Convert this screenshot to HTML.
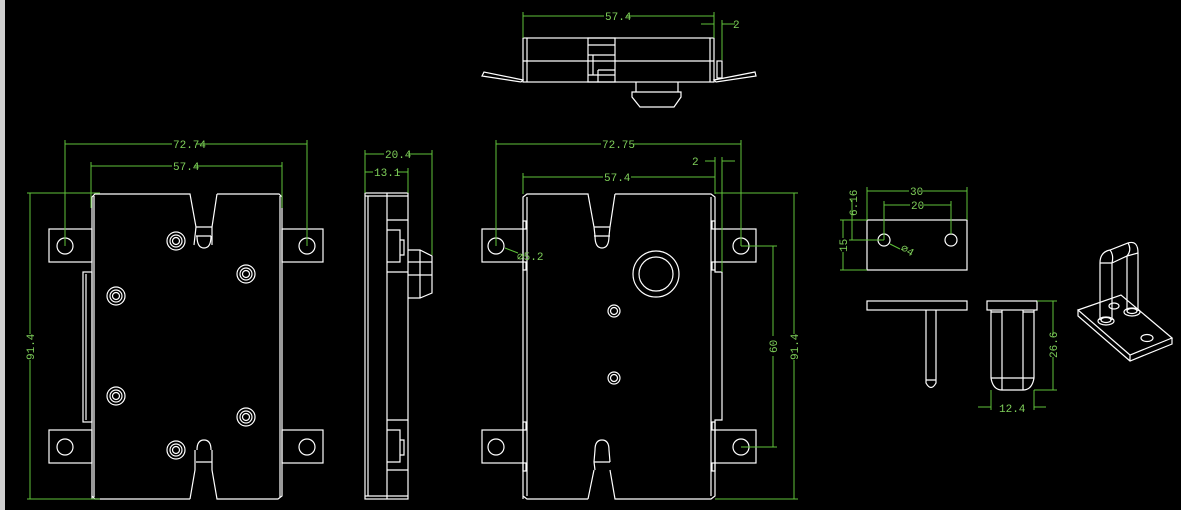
<!DOCTYPE html>
<html><head><meta charset="utf-8"><style>
html,body{margin:0;padding:0;background:#000;}
svg{display:block}
text{font-family:"Liberation Mono","DejaVu Sans Mono",monospace;font-size:11px;fill:#7fd05a}
</style></head><body>
<svg width="1181" height="510" viewBox="0 0 1181 510" xmlns="http://www.w3.org/2000/svg">
<rect x="0" y="0" width="1181" height="510" fill="#000"/>
<rect x="0" y="0" width="5" height="510" fill="#d0d0d0"/>

<!-- ============ LEFT FRONT VIEW ============ -->
<g fill="none" stroke="#fff" stroke-width="1.2">
  <path d="M92,499 L92,197 L95,194 L190,194 L196,227 L194,245 M217,194 L212,227 L212,245 M217,194 L279,194 L282,197 L282,496 L278,499 L217,499 L212,470 L212,450 M190,499 L95,499 L92,496 M190,499 L195,470 L195,450"/>
  <path d="M196,227 L212,227 M196,236 L211,236 M197,236 Q197,248 204,248 Q211,248 211,236"/>
  <path d="M196,462 L212,462 M197,450 Q197,440 204,440 Q211,440 211,450"/>
  <line x1="94" y1="196" x2="94" y2="497"/>
  <line x1="280" y1="196" x2="280" y2="497"/>
  <rect x="49" y="229" width="43" height="33"/><circle cx="65" cy="246" r="8"/>
  <rect x="282" y="229" width="41" height="33"/><circle cx="307" cy="246" r="8"/>
  <rect x="49" y="430" width="43" height="33"/><circle cx="65" cy="447" r="8"/>
  <rect x="282" y="430" width="41" height="33"/><circle cx="307" cy="447" r="8"/>
  <rect x="83" y="272" width="9" height="150"/><line x1="86" y1="274" x2="86" y2="420"/>
  <g>
    <circle cx="176" cy="241" r="9"/><circle cx="176" cy="241" r="6"/><circle cx="176" cy="241" r="3.5"/>
    <circle cx="246" cy="274" r="9"/><circle cx="246" cy="274" r="6"/><circle cx="246" cy="274" r="3.5"/>
    <circle cx="116" cy="296" r="9"/><circle cx="116" cy="296" r="6"/><circle cx="116" cy="296" r="3.5"/>
    <circle cx="116" cy="396" r="9"/><circle cx="116" cy="396" r="6"/><circle cx="116" cy="396" r="3.5"/>
    <circle cx="246" cy="417" r="9"/><circle cx="246" cy="417" r="6"/><circle cx="246" cy="417" r="3.5"/>
    <circle cx="176" cy="450" r="9"/><circle cx="176" cy="450" r="6"/><circle cx="176" cy="450" r="3.5"/>
  </g>
</g>
<g fill="none" stroke="#5fc23a" stroke-width="1">
  <line x1="65" y1="144" x2="307" y2="144"/>
  <line x1="65" y1="140" x2="65" y2="246"/><line x1="307" y1="140" x2="307" y2="246"/>
  <line x1="91" y1="166" x2="282" y2="166"/>
  <line x1="91" y1="162" x2="91" y2="208"/><line x1="282" y1="162" x2="282" y2="208"/>
  <line x1="30" y1="193" x2="30" y2="499"/>
  <line x1="27" y1="193" x2="100" y2="193"/><line x1="27" y1="499" x2="100" y2="499"/>
</g>
<rect x="172" y="140" width="24" height="8" fill="#000"/><text x="173" y="148">72.74</text>
<rect x="172" y="162" width="22" height="8" fill="#000"/><text x="173" y="170">57.4</text>
<rect x="25" y="334" width="10" height="26" fill="#000"/><text transform="translate(34,360) rotate(-90)">91.4</text>

<!-- ============ SIDE VIEW ============ -->
<g fill="none" stroke="#fff" stroke-width="1.2">
  <rect x="365" y="193" width="43" height="306"/>
  <line x1="368" y1="196" x2="368" y2="496"/>
  <line x1="387" y1="193" x2="387" y2="499"/>
  <line x1="365" y1="196" x2="408" y2="196"/><line x1="365" y1="496" x2="408" y2="496"/>
  <path d="M387,220 L408,220 M387,272 L408,272 M387,230 L400,230 L400,262 L387,262 M400,240 L404,240 L404,255 L400,255"/>
  <path d="M387,420 L408,420 M387,470 L408,470 M387,430 L400,430 L400,462 L387,462 M400,440 L404,440 L404,455 L400,455"/>
  <path d="M408,250 L420,250 L432,256 L432,293 L420,298 L408,298 M420,250 L420,298 M408,262 L432,262 M408,275 L432,275"/>
</g>
<g fill="none" stroke="#5fc23a" stroke-width="1">
  <line x1="365" y1="154" x2="432" y2="154"/><line x1="365" y1="172" x2="408" y2="172"/>
  <line x1="365" y1="150" x2="365" y2="193"/><line x1="432" y1="150" x2="432" y2="255"/>
  <line x1="408" y1="168" x2="408" y2="193"/>
</g>
<rect x="384" y="150" width="24" height="8" fill="#000"/><text x="385" y="158">20.4</text>
<rect x="373" y="168" width="24" height="8" fill="#000"/><text x="374" y="176">13.1</text>

<!-- ============ TOP VIEW ============ -->
<g fill="none" stroke="#fff" stroke-width="1.2">
  <rect x="523" y="38" width="191" height="44"/>
  <line x1="527" y1="38" x2="527" y2="82"/><line x1="710" y1="38" x2="710" y2="82"/>
  <line x1="523" y1="61" x2="714" y2="61"/>
  <rect x="588" y="38" width="27" height="44"/>
  <path d="M588,45 L615,45 M588,55 L615,55 M593,55 L593,75 M598,70 L615,70 M598,70 L598,82 M588,75 L615,75"/>
  <path d="M523,80 L484,72 L482,76 L521,82 Z"/>
  <path d="M714,80 L755,72 L756,76 L716,82 Z"/>
  <rect x="717" y="61" width="5" height="17"/>
  <path d="M636,82 L636,92 L678,92 L678,82 M632,92 L681,92 L681,97 L674,107 L640,107 L632,97 Z"/>
</g>
<g fill="none" stroke="#5fc23a" stroke-width="1">
  <line x1="523" y1="16" x2="714" y2="16"/>
  <line x1="523" y1="12" x2="523" y2="38"/><line x1="714" y1="12" x2="714" y2="38"/>
  <line x1="701" y1="24" x2="714" y2="24"/><line x1="722" y1="24" x2="735" y2="24"/>
  <line x1="722" y1="20" x2="722" y2="60"/>
</g>
<rect x="604" y="12" width="22" height="8" fill="#000"/><text x="605" y="20">57.4</text>
<text x="733" y="28">2</text>

<!-- ============ RIGHT FRONT VIEW ============ -->
<g fill="none" stroke="#fff" stroke-width="1.2">
  <path d="M523,499 L523,197 L527,194 L588,194 L594,227 M615,194 L610,227 M615,194 L711,194 L715,197 L715,272 L722,272 L722,420 L715,420 L715,496 L711,499 L615,499 L610,470 M588,499 L527,499 L523,496 M588,499 L594,470"/>
  <line x1="527" y1="197" x2="527" y2="496"/><line x1="711" y1="197" x2="711" y2="496"/>
  <path d="M594,227 L610,227 M594,236 L610,236 M595,236 Q595,248 602,248 Q609,248 609,236 M594,227 L595,236 M610,227 L609,236"/>
  <path d="M594,462 L610,462 M595,470 L594,462 M595,450 Q595,440 602,440 Q609,440 609,450 L610,462 M595,450 L594,462"/>
  <rect x="482" y="229" width="41" height="33"/><circle cx="496" cy="246" r="8"/>
  <rect x="715" y="229" width="41" height="33"/><circle cx="741" cy="246" r="8"/>
  <rect x="482" y="430" width="41" height="33"/><circle cx="496" cy="447" r="8"/>
  <rect x="715" y="430" width="41" height="33"/><circle cx="741" cy="447" r="8"/>
  <rect x="523" y="221" width="3" height="8"/><rect x="523" y="262" width="3" height="8"/>
  <rect x="523" y="422" width="3" height="8"/><rect x="523" y="463" width="3" height="8"/>
  <rect x="712" y="221" width="3" height="8"/><rect x="712" y="262" width="3" height="8"/>
  <rect x="712" y="422" width="3" height="8"/><rect x="712" y="463" width="3" height="8"/>
  <circle cx="656" cy="274" r="23"/><circle cx="656" cy="274" r="17"/>
  <circle cx="614" cy="311" r="6"/><circle cx="614" cy="311" r="3.5"/>
  <circle cx="614" cy="378" r="6"/><circle cx="614" cy="378" r="3.5"/>
</g>
<g fill="none" stroke="#5fc23a" stroke-width="1">
  <line x1="496" y1="144" x2="741" y2="144"/>
  <line x1="496" y1="140" x2="496" y2="246"/><line x1="741" y1="140" x2="741" y2="246"/>
  <line x1="523" y1="177" x2="715" y2="177"/>
  <line x1="523" y1="173" x2="523" y2="194"/><line x1="715" y1="157" x2="715" y2="194"/>
  <line x1="705" y1="161" x2="715" y2="161"/><line x1="722" y1="161" x2="735" y2="161"/>
  <line x1="722" y1="157" x2="722" y2="272"/>
  <line x1="794" y1="193" x2="794" y2="499"/>
  <line x1="715" y1="193" x2="798" y2="193"/><line x1="715" y1="499" x2="798" y2="499"/>
  <line x1="773" y1="246" x2="773" y2="447"/>
  <line x1="741" y1="246" x2="777" y2="246"/><line x1="741" y1="447" x2="777" y2="447"/>
  <line x1="505" y1="248" x2="518" y2="253"/>
</g>
<rect x="601" y="140" width="32" height="8" fill="#000"/><text x="602" y="148">72.75</text>
<rect x="603" y="173" width="28" height="8" fill="#000"/><text x="604" y="181">57.4</text>
<text x="692" y="165">2</text>
<text x="517" y="260">∅5.2</text>
<rect x="768" y="336" width="10" height="20" fill="#000"/><text transform="translate(777,353) rotate(-90)">60</text>
<rect x="789" y="334" width="10" height="26" fill="#000"/><text transform="translate(798,360) rotate(-90)">91.4</text>

<!-- ============ SMALL PART ============ -->
<g fill="none" stroke="#fff" stroke-width="1.2">
  <rect x="867" y="220" width="100" height="50"/>
  <circle cx="884" cy="240" r="6"/><circle cx="951" cy="240" r="6"/>
  <rect x="867" y="301" width="100" height="9"/>
  <path d="M926,310 L926,383 Q931,392 936,383 L936,310 M926,380 L936,380"/>
  <rect x="987" y="301" width="50" height="9"/>
  <path d="M991,310 L991,378 Q993,390 1002,390 L1023,390 Q1032,390 1034,378 L1034,310 M1002,310 L1002,390 M1023,310 L1023,390 M991,312 L1002,312 M1023,312 L1034,312 M991,378 L1034,378"/>
  <path d="M1078,310 L1121,295 L1172,338 L1130,355 Z M1078,310 L1078,316 L1130,361 L1172,344 L1172,338 M1130,355 L1130,361"/>
  <ellipse cx="1147" cy="338" rx="6" ry="3.5"/>
  <ellipse cx="1114" cy="306" rx="5" ry="3"/>
  <ellipse cx="1106" cy="321" rx="8" ry="4"/><ellipse cx="1106" cy="320" rx="5" ry="2.5"/>
  <ellipse cx="1132" cy="312" rx="8" ry="4"/><ellipse cx="1132" cy="311" rx="5" ry="2.5"/>
  <path d="M1100,320 L1100,263 Q1100,252 1110,250 L1128,243 Q1138,240 1138,253 L1138,311"/>
  <path d="M1112,320 L1112,263 M1127,311 L1127,256 L1112,263 M1100,263 L1112,263 M1127,256 L1138,253 M1110,250 Q1114,255 1112,263 M1128,243 Q1132,250 1127,256"/>
</g>
<g fill="none" stroke="#5fc23a" stroke-width="1">
  <line x1="867" y1="191" x2="967" y2="191"/>
  <line x1="867" y1="187" x2="867" y2="220"/><line x1="967" y1="187" x2="967" y2="220"/>
  <line x1="884" y1="205" x2="951" y2="205"/>
  <line x1="884" y1="201" x2="884" y2="240"/><line x1="951" y1="201" x2="951" y2="234"/>
  <line x1="843" y1="220" x2="843" y2="270"/>
  <line x1="840" y1="220" x2="867" y2="220"/><line x1="840" y1="270" x2="867" y2="270"/>
  <line x1="852" y1="200" x2="852" y2="240"/><line x1="849" y1="240" x2="884" y2="240"/>
  <line x1="890" y1="244" x2="900" y2="249"/>
  <line x1="1053" y1="301" x2="1053" y2="390"/>
  <line x1="1037" y1="301" x2="1057" y2="301"/><line x1="1034" y1="390" x2="1057" y2="390"/>
  <line x1="991" y1="390" x2="991" y2="410"/><line x1="1034" y1="390" x2="1034" y2="410"/>
  <line x1="978" y1="407" x2="991" y2="407"/><line x1="1034" y1="407" x2="1046" y2="407"/>
</g>
<rect x="909" y="187" width="14" height="8" fill="#000"/><text x="910" y="195">30</text>
<rect x="910" y="201" width="14" height="8" fill="#000"/><text x="911" y="209">20</text>
<rect x="838" y="238" width="10" height="14" fill="#000"/><text transform="translate(847,252) rotate(-90)">15</text>
<text transform="translate(857,216) rotate(-90)">6.16</text>
<text transform="translate(900,250) rotate(30)">∅4</text>
<rect x="1048" y="335" width="10" height="22" fill="#000"/><text transform="translate(1057,358) rotate(-90)">26.6</text>
<text x="999" y="412">12.4</text>
</svg>
</body></html>
